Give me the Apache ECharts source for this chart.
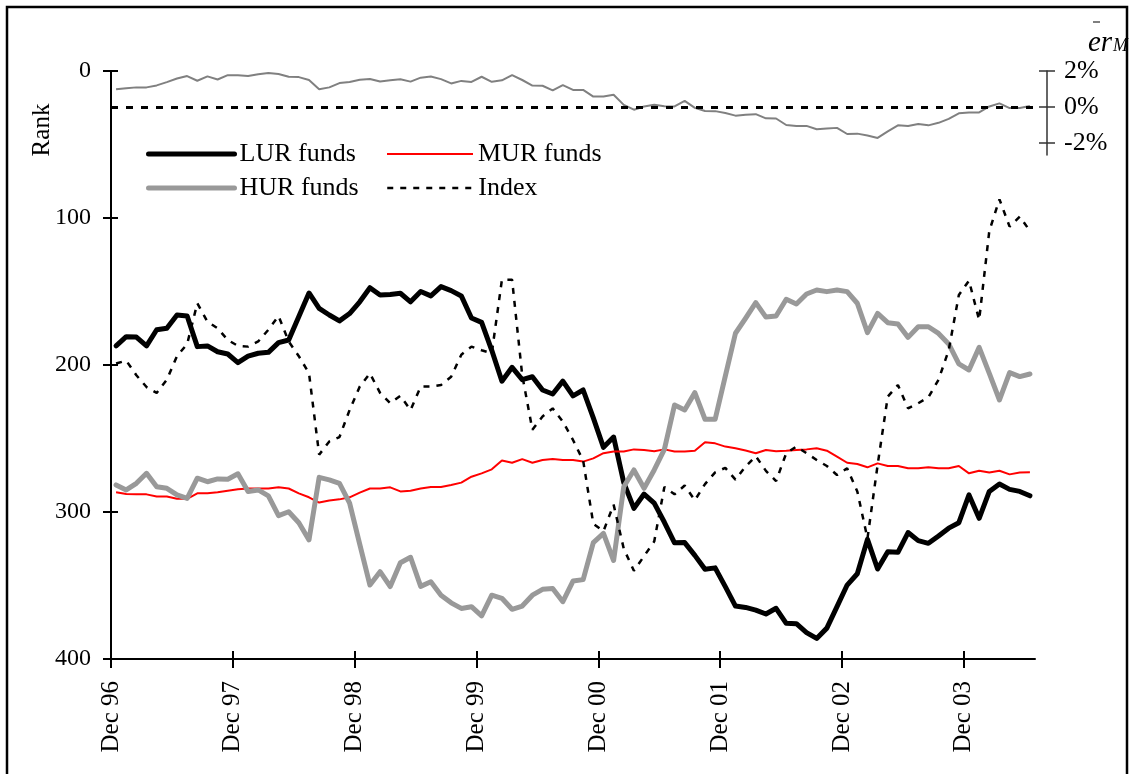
<!DOCTYPE html>
<html><head><meta charset="utf-8">
<script src="https://cdn.jsdelivr.net/npm/echarts@6/dist/echarts.min.js"></script>
<style>html,body{margin:0;padding:0;background:#fff}#c{width:1133px;height:774px}</style>
</head><body><div id="c"></div>
<script>
const FONT = "'Liberation Serif','Times New Roman',serif";

// x-axis tick labels (one per December), placed at month offsets from Dec 96
const tickLabels = ['Dec 96','Dec 97','Dec 98','Dec 99','Dec 00','Dec 01','Dec 02','Dec 03'];
const tickMonths = [0,12,24,36,48,60,72,84];
const monthCount = 91;

// Rank series (monthly, Dec 96 .. Jun 04)
const lur = [187,180.7,181,187,176,175,166,166.7,187.5,187,
  191,192.5,198.4,194,192,191.4,184.8,183,167,151,
  161.5,166,170,165,157,147.4,152.4,152,151.2,157,
  150,153,146.7,149.4,153,168,171,190,211,201.6,
  210,208,217,219.7,211,221,217,236,256,249,
  280,297.5,287.8,294,307,321,320.8,329.5,339,338,
  350.8,364,364.9,366.7,369.4,365.5,375.7,376,382,386,
  379,364.4,349.7,342,318.6,338.8,327,327.4,314,319.5,
  321.3,316.3,311,307.3,288.4,304.3,286,281,284.6,286,289];
const mur = [286.6,287.8,288,288,289.5,289.5,291,291,287.3,287.3,
  286.6,285.5,284.6,284,284,284,283.2,284,287.3,290,
  293.6,292.2,291.4,290,286.8,284,284,283.2,286,285.5,
  284,283,283,281.6,280,276,273.7,271,265,266.5,
  264,266.5,264.6,264,264.6,264.6,265.7,263.5,260,258.9,
  258.9,257.4,257.8,258.6,257.4,258.9,258.9,258.4,252.6,253.3,
  255.5,256.6,258.2,260,257.8,258.6,258.3,257.8,257.4,256.7,
  258.3,262.4,266.5,267.3,269.6,266.9,268.7,268.7,270.3,270.3,
  269.6,270.3,270.3,268.7,273.7,271.9,273.2,271.9,274.4,273.2,273];
const hur = [281.6,285,280.5,273.7,282.8,283.9,288.4,290.7,277,279.4,
  277.5,277.7,274,286,285,289,302.5,299.8,307.3,319,
  276.4,278.2,280.5,294,322,349.7,340.6,350.7,334.5,330.8,
  350.6,347.5,356.6,361.8,365.6,364.4,370.7,356.6,358.7,366.2,
  364,356.6,352.6,352,361,347,346,320.8,314.5,333,
  282.8,271.4,283.9,271.4,257.4,227.2,230.6,218.8,236.9,236.9,
  207.6,178.4,168.2,157.6,167.4,166.7,155.3,158.5,151.7,149,
  150.1,149,150.1,158,178,164.9,171.2,172.1,181.2,174,
  174,178.5,185.7,199.3,203.4,188,205.7,223.8,205.2,207.9,206.1];
const indexRank = [199,197,207,215,219,210,194,185.7,158,170.5,
  175,183,187,187.5,184,176,166.7,184,194,205.6,
  261,252,249,230.6,214.7,205.7,219,226,221,230.6,
  214.7,214.7,213.6,208,193,187.5,190,192,142,142,
  207,244,235,229.5,238.5,251,265,308,313,295,
  325,340,330,320,283,288,282,292,281,273,
  270,278,269,262,272,279,260,255.5,260,264.6,
  268.7,274.8,270.3,286,318,268,221.5,213.6,229.5,226,
  222,210,190,152.4,142.6,169.4,108.8,87.3,105.9,99,108.8];
// mean excess return of the market (%)
const erM = [0.98,1.04,1.09,1.09,1.2,1.38,1.58,1.72,1.46,1.7,
  1.53,1.77,1.76,1.72,1.82,1.89,1.83,1.68,1.66,1.5,
  0.99,1.09,1.33,1.39,1.51,1.56,1.42,1.49,1.54,1.41,
  1.63,1.69,1.55,1.31,1.45,1.39,1.68,1.4,1.48,1.77,
  1.5,1.19,1.18,0.92,1.22,0.95,0.95,0.58,0.58,0.68,
  0.12,-0.15,0.03,0.12,0.04,0.03,0.34,-0.05,-0.22,-0.23,
  -0.33,-0.48,-0.43,-0.4,-0.63,-0.64,-1.0,-1.05,-1.05,-1.24,
  -1.2,-1.16,-1.5,-1.48,-1.58,-1.72,-1.35,-1.02,-1.05,-0.95,
  -1.02,-0.88,-0.66,-0.35,-0.3,-0.3,0.03,0.2,-0.06,-0.06,0.06];
const pctTicks = [-2,0,2];

// each monthly value sits in the middle of its month slot
const toXY = arr => arr.map((v, i) => [i + 0.5, v]);

const chart = echarts.init(document.getElementById('c'), null, {renderer: 'canvas'});
const black = '#000';
const axisTxt = {color: black, fontFamily: FONT};

function legendItem(name, left, top, lineStyle) {
  return {left: left, top: top, orient: 'horizontal', selectedMode: false, padding: 0,
    itemWidth: 86, itemHeight: 14, itemGap: 0,
    itemStyle: {opacity: 0, borderWidth: 0},
    textStyle: {fontFamily: FONT, fontSize: 26, color: black},
    data: [{name: name, lineStyle: lineStyle, itemStyle: {opacity: 0, borderWidth: 0}}]};
}

chart.setOption({
  animation: false,
  backgroundColor: '#fff',
  grid: [
    {left: 111, top: 71, width: 924, height: 588},
    {left: 111, top: 71, width: 924, height: 84}
  ],
  xAxis: [
    {gridIndex: 0, type: 'value', min: 0, max: monthCount, position: 'bottom',
      axisLine: {show: true, onZero: false, lineStyle: {color: black, width: 2}},
      axisTick: {show: true, customValues: tickMonths, length: 9, lineStyle: {color: black, width: 2}},
      axisLabel: {show: true, customValues: tickMonths, rotate: 90, margin: 22, fontSize: 25, ...axisTxt,
        formatter: v => tickLabels[tickMonths.indexOf(v)] || ''},
      splitLine: {show: false}},
    {gridIndex: 0, type: 'value', min: 0, max: monthCount, position: 'bottom',
      axisLine: {show: false, onZero: false},
      axisTick: {show: true, inside: true, customValues: tickMonths, length: 8, lineStyle: {color: black, width: 2}},
      axisLabel: {show: false}, splitLine: {show: false}},
    {gridIndex: 1, type: 'value', min: 0, max: monthCount, show: false,
      axisLine: {onZero: false}}
  ],
  yAxis: [
    {gridIndex: 0, type: 'value', inverse: true, min: 0, max: 400, interval: 100, position: 'left',
      axisLine: {show: true, onZero: false, lineStyle: {color: black, width: 2}},
      axisTick: {show: true, length: 8, lineStyle: {color: black, width: 2}},
      axisLabel: {show: true, margin: 20, fontSize: 24, ...axisTxt},
      splitLine: {show: false}},
    {gridIndex: 0, type: 'value', inverse: true, min: 0, max: 400, interval: 100, position: 'left',
      axisLine: {show: false, onZero: false},
      axisTick: {show: true, inside: true, length: 7, lineStyle: {color: black, width: 2}},
      axisLabel: {show: false}, splitLine: {show: false}},
    {gridIndex: 1, type: 'value', min: -2.667, max: 2, position: 'right', offset: 12,
      axisLine: {show: true, onZero: false, lineStyle: {color: '#333', width: 1.5}},
      axisTick: {show: true, customValues: pctTicks, length: 8, lineStyle: {color: '#333', width: 1.5}},
      axisLabel: {show: true, customValues: pctTicks, margin: 17, fontSize: 26, ...axisTxt,
        formatter: v => v + '%'},
      splitLine: {show: false}},
    {gridIndex: 1, type: 'value', min: -2.667, max: 2, position: 'right', offset: 12,
      axisLine: {show: false, onZero: false},
      axisTick: {show: true, inside: true, customValues: pctTicks, length: 8, lineStyle: {color: '#333', width: 1.5}},
      axisLabel: {show: false}, splitLine: {show: false}}
  ],
  legend: [
    legendItem('LUR funds', 146, 141, {width: 5, cap: 'round'}),
    legendItem('MUR funds', 386, 141, {width: 2}),
    legendItem('HUR funds', 146, 175, {width: 5, cap: 'round'}),
    legendItem('Index', 386, 175, {width: 2.5})
  ],
  series: [
    {name: 'LUR funds', type: 'line', xAxisIndex: 0, yAxisIndex: 0, data: toXY(lur), symbol: 'none',
      lineStyle: {color: black, width: 5, cap: 'round', join: 'round'}, itemStyle: {color: black}},
    {name: 'MUR funds', type: 'line', xAxisIndex: 0, yAxisIndex: 0, data: toXY(mur), symbol: 'none',
      lineStyle: {color: '#ff0000', width: 2}, itemStyle: {color: '#ff0000'}},
    {name: 'HUR funds', type: 'line', xAxisIndex: 0, yAxisIndex: 0, data: toXY(hur), symbol: 'none',
      lineStyle: {color: '#999999', width: 5, cap: 'round', join: 'round'}, itemStyle: {color: '#999999'}},
    {name: 'Index', type: 'line', xAxisIndex: 0, yAxisIndex: 0, data: toXY(indexRank), symbol: 'none',
      lineStyle: {color: black, width: 2.5, type: [6, 7]}, itemStyle: {color: black}},
    {name: 'erM', type: 'line', xAxisIndex: 2, yAxisIndex: 2, data: toXY(erM), symbol: 'none',
      lineStyle: {color: '#808080', width: 2}, itemStyle: {color: '#808080'},
      markLine: {silent: true, symbol: ['none', 'none'], label: {show: false},
        lineStyle: {color: black, width: 3, type: [7, 8]}, data: [{yAxis: 0}]}}
  ],
  graphic: [
    {type: 'rect', shape: {x: 7, y: 7, width: 1120, height: 800}, style: {fill: 'none', stroke: black, lineWidth: 2.5}, silent: true},
    {type: 'text', x: 42, y: 130, rotation: Math.PI / 2,
      style: {text: 'Rank', font: "25px 'Liberation Serif'", fill: black, textAlign: 'center', textVerticalAlign: 'middle'}},
    {type: 'text', x: 1088, y: 43,
      style: {text: 'er', font: "italic 29px 'Liberation Serif'", fill: black, textAlign: 'left', textVerticalAlign: 'middle'}},
    {type: 'text', x: 1113, y: 46,
      style: {text: 'M', font: "italic 18px 'Liberation Serif'", fill: black, textAlign: 'left', textVerticalAlign: 'middle'}},
    {type: 'line', shape: {x1: 1093, y1: 22, x2: 1100, y2: 22}, style: {stroke: '#555', lineWidth: 1.5}}
  ]
});
</script></body></html>
